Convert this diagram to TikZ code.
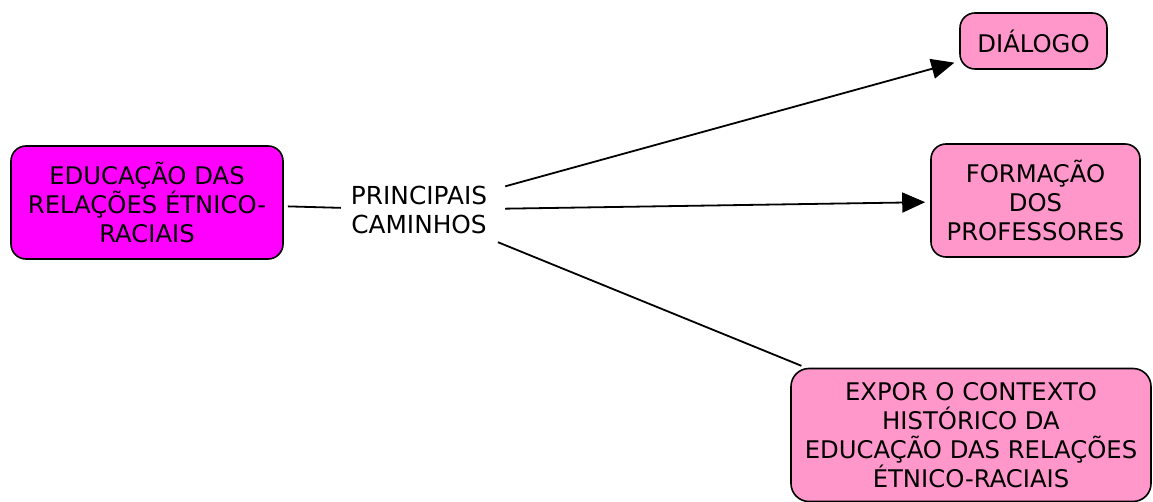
\documentclass[tikz,border=0pt]{standalone}
\usepackage{fontspec}
\setmainfont{DejaVu Sans}
\usetikzlibrary{arrows.meta}
\definecolor{magbox}{HTML}{FF00FF}
\definecolor{pinkbox}{HTML}{FF97CB}
\begin{document}
\begin{tikzpicture}[x=1pt,y=-1pt,
  box/.style={draw=black, line width=1.6pt, rounded corners=15pt, align=center, inner sep=0pt,
    font=\fontsize{24.3}{29}\selectfont},
  lbl/.style={align=center, inner sep=0pt, minimum width=172pt, minimum height=64pt,
    font=\fontsize{24.8}{29}\selectfont},
  conn/.style={line width=1.8pt},
  arr/.style={conn, -{Triangle[length=23pt,width=20pt]}, shorten >=5pt}]
\useasboundingbox (0,0) rectangle (1153,502);
\node[box, fill=magbox, minimum width=272pt, minimum height=113pt] (edu) at (147,202.5)
  {EDUCAÇÃO DAS\\RELAÇÕES ÉTNICO-\\RACIAIS};
\node[lbl] (lab) at (419,210) {PRINCIPAIS\\CAMINHOS};
\node[box, fill=pinkbox, minimum width=147pt, minimum height=56pt] (dia) at (1033.5,41) {DIÁLOGO};
\node[box, fill=pinkbox, minimum width=209pt, minimum height=113pt] (form) at (1035.5,200.5)
  {FORMAÇÃO\\DOS\\PROFESSORES};
\node[box, fill=pinkbox, rounded corners=18pt, minimum width=360pt, minimum height=133pt] (expo) at (971,435)
  {EXPOR O CONTEXTO\\HISTÓRICO DA\\EDUCAÇÃO DAS RELAÇÕES\\ÉTNICO-RACIAIS};
\draw[conn, shorten <=4pt, shorten >=-8pt] (edu) -- (lab);
\draw[arr] (lab) -- (dia);
\draw[arr] (lab) -- (form);
\draw[conn, shorten >=5pt] (lab) -- (expo);
\end{tikzpicture}
\end{document}
